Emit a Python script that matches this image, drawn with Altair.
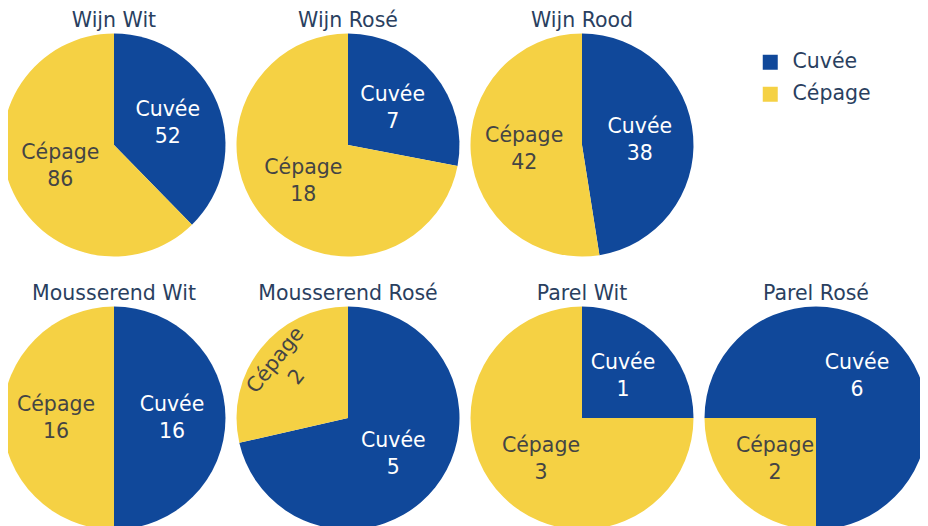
import altair as alt
import pandas as pd

# ---- data ----
charts = ["Wijn Wit", "Wijn Rosé", "Wijn Rood",
          "Mousserend Wit", "Mousserend Rosé", "Parel Wit", "Parel Rosé"]
categories = ["Cuvée", "Cépage"]
cuvee = [52, 7, 38, 16, 5, 1, 6]
cepage = [86, 18, 42, 16, 2, 3, 2]

# ---- layout / style ----
ROW_SIZES = [3, 4]                       # pies per grid row
ROTATION = {"Parel Rosé": 270}           # start angle (deg, clockwise from top)
TANGENTIAL = {("Mousserend Rosé", "Cépage")}  # labels drawn along the arc
BLUE, YELLOW = "#10489A", "#F5D144"
FONT = "DejaVu Sans"
FS = 20.5
LH = 27
TITLE_COLOR = "#2a3f5f"

cols, rows = [], []
for r, n in enumerate(ROW_SIZES):
    for c in range(n):
        cols.append(c)
        rows.append(r)

records = []
for i, name in enumerate(charts):
    for k, (cat, val) in enumerate(zip(categories, [cuvee[i], cepage[i]])):
        records.append({
            "chart": name, "category": cat, "value": val, "order": k,
            "col": cols[i], "row": rows[i],
            "rot": ROTATION.get(name, 0) / 360.0,
            "tangential": (name, cat) in TANGENTIAL,
        })
df = pd.DataFrame(records)
titles = pd.DataFrame({"chart": charts, "col": cols, "row": rows})

xs = alt.Scale(domain=[0, 3], range=[106, 808])
ys = alt.Scale(domain=[0, 1], range=[137, 410])
ts = alt.Scale(domain=[0, 1], range=[0, 6.283185307179586])

base = alt.Chart(df).transform_joinaggregate(
    total="sum(value)", groupby=["chart"]
).transform_window(
    cum="sum(value)", groupby=["chart"], sort=[alt.SortField("order")],
    frame=[None, 0]
).transform_calculate(
    start="(datum.cum - datum.value) / datum.total + datum.rot",
    end="datum.cum / datum.total + datum.rot",
).transform_calculate(
    mid="(datum.start + datum.end) / 2",
    label="datum.category + '\\n' + datum.value",
).transform_calculate(
    ang="(datum.mid * 360) % 360",
)

X = alt.X("col:Q", scale=xs, axis=None)
Y = alt.Y("row:Q", scale=ys, axis=None)

arcs = base.mark_arc(radius=111.5, stroke=None).encode(
    x=X, y=Y,
    theta=alt.Theta("start:Q", scale=ts, stack=None),
    theta2="end:Q",
    color=alt.Color(
        "category:N",
        scale=alt.Scale(domain=categories, range=[BLUE, YELLOW]),
        legend=alt.Legend(
            title=None, orient="none", legendX=752, legendY=44,
            symbolType="square", symbolSize=225, symbolStrokeWidth=0,
            labelFontSize=FS, labelFont=FONT, labelColor=TITLE_COLOR,
            rowPadding=11, labelOffset=12, padding=0,
        ),
    ),
)

txt_color = alt.when(alt.datum.category == "Cuvée").then(
    alt.value("white")).otherwise(alt.value("#444444"))

labels = base.transform_filter("!datum.tangential").mark_text(
    font=FONT, fontSize=FS, lineBreak="\n", lineHeight=LH, dy=-LH / 2,
    align="center", baseline="middle",
).encode(
    x=X, y=Y,
    theta=alt.Theta("mid:Q", scale=ts, stack=None),
    radius=alt.value(58),
    text="label:N",
    color=txt_color,
)

labels_t = base.transform_filter("datum.tangential").mark_text(
    font=FONT, fontSize=FS, lineBreak="\n", lineHeight=LH, dy=-LH / 2,
    align="center", baseline="middle",
).encode(
    x=X, y=Y,
    theta=alt.Theta("mid:Q", scale=ts, stack=None),
    radius=alt.value(79),
    angle=alt.Angle("ang:Q", scale=alt.Scale(domain=[0, 360], range=[0, 360])),
    text="label:N",
    color=txt_color,
)

title_layer = alt.Chart(titles).mark_text(
    font=FONT, fontSize=FS, color=TITLE_COLOR, dy=-124,
    align="center", baseline="middle",
).encode(x=X, y=Y, text="chart:N")

chart = alt.layer(arcs, labels, labels_t, title_layer).properties(
    width=912, height=518, padding=0,
    autosize=alt.AutoSizeParams(type="none"),
).configure_view(stroke=None)

chart.save("out.html", embed_options={"renderer": "svg", "actions": False})
